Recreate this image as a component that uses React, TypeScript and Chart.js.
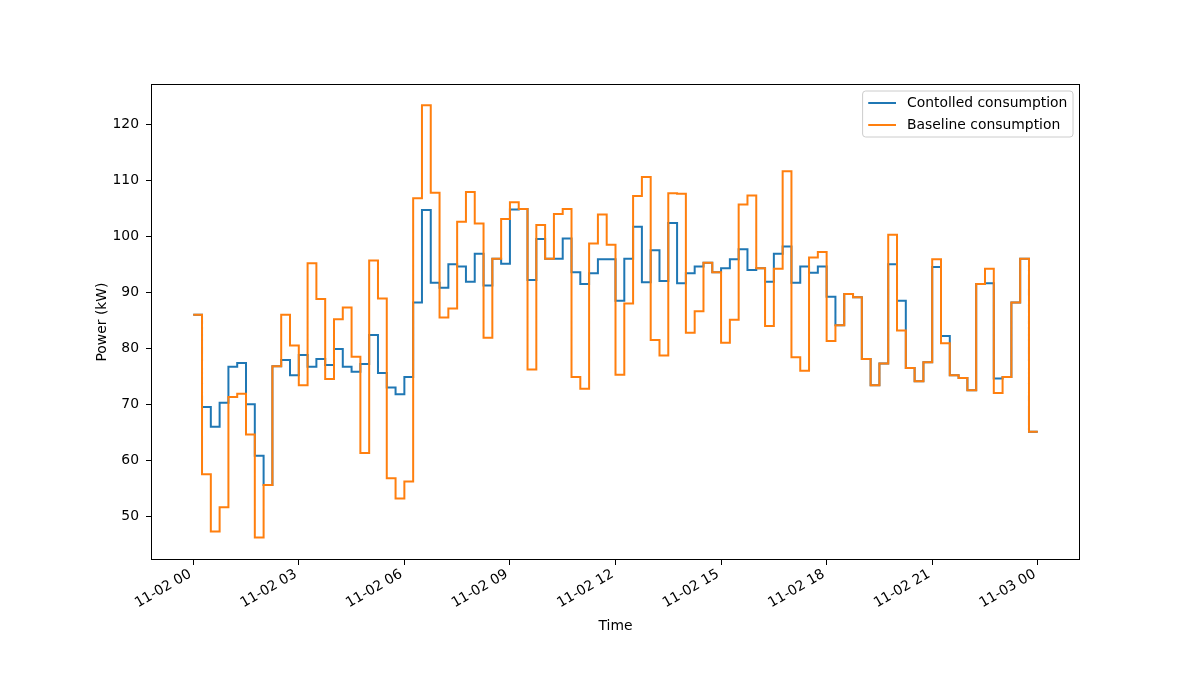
import React, { useEffect, useRef } from 'react';
import { Chart, registerables } from 'chart.js';

Chart.register(...registerables);

// 15-minute intervals over 11-02 (kW)
const STEP_H = 0.25;

const controlled = [
  86.1, 69.6, 66.1, 70.4, 76.8, 77.5, 70.1, 60.9, 55.7, 76.9, 78.0, 75.3,
  78.9, 76.8, 78.2, 77.1, 80.0, 76.8, 75.9, 77.3, 82.5, 75.7, 73.1, 71.9,
  75.0, 88.3, 104.8, 91.8, 90.9, 95.1, 94.7, 92.0, 97.0, 91.3, 96.1, 95.2,
  104.9, 105.0, 92.3, 99.6, 96.1, 96.1, 99.7, 93.7, 91.6, 93.5, 96.0, 96.0,
  88.6, 96.1, 101.8, 91.9, 97.6, 92.1, 102.5, 91.7, 93.5, 94.7, 95.4, 93.7,
  94.4, 96.0, 97.8, 94.1, 94.4, 92.0, 97.0, 98.3, 91.8, 94.7, 93.6, 94.7,
  89.3, 84.2, 89.8, 89.2, 78.2, 73.5, 77.4, 95.1, 88.6, 76.6, 74.2, 77.6,
  94.6, 82.3, 75.3, 74.8, 72.6, 91.6, 91.7, 74.7, 75.0, 88.3, 96.1, 65.2,
];

const baseline = [
  86.1, 57.6, 47.4, 51.7, 71.4, 72.0, 64.7, 46.3, 55.7, 76.9, 86.1, 80.6,
  73.5, 95.3, 88.9, 74.6, 85.3, 87.4, 78.6, 61.4, 95.8, 89.0, 56.9, 53.3,
  56.3, 106.9, 123.5, 107.9, 85.6, 87.2, 102.7, 108.0, 102.4, 82.0, 96.1, 103.2,
  106.2, 105.0, 76.3, 102.1, 96.1, 104.1, 105.0, 75.0, 72.9, 98.8, 104.0, 98.6,
  75.4, 88.1, 107.3, 110.7, 81.6, 78.8, 107.8, 107.7, 82.9, 86.7, 95.4, 93.7,
  81.1, 85.2, 105.8, 107.4, 94.4, 84.1, 94.3, 111.7, 78.5, 76.1, 96.3, 97.3,
  81.4, 84.2, 89.8, 89.2, 78.2, 73.5, 77.4, 100.4, 83.3, 76.6, 74.2, 77.6,
  96.0, 81.0, 75.3, 74.8, 72.6, 91.6, 94.3, 72.1, 75.0, 88.3, 96.1, 65.2,
];

const hourTicks = [0, 3, 6, 9, 12, 15, 18, 21, 24];
const hourLabels = [
  '11-02 00', '11-02 03', '11-02 06', '11-02 09', '11-02 12',
  '11-02 15', '11-02 18', '11-02 21', '11-03 00',
];
const powerTicks = [50, 60, 70, 80, 90, 100, 110, 120];

const seriesNames = ['Contolled consumption', 'Baseline consumption'];
const seriesColors = ['#1f77b4', '#ff7f0e'];

const FONT = '"DejaVu Sans", sans-serif';

// step series: each value holds for its interval, closed at the end of the day
const toSteps = (vals: number[]) =>
  vals
    .map((v, i) => ({ x: i * STEP_H, y: v }))
    .concat({ x: vals.length * STEP_H, y: vals[vals.length - 1] });

const framePlugin = {
  id: 'frameAndLegend',
  afterDraw(chart: any) {
    const { ctx, chartArea } = chart;
    ctx.save();
    // all four spines
    ctx.strokeStyle = '#000';
    ctx.lineWidth = 1;
    ctx.strokeRect(Math.round(chartArea.left) + 0.5, Math.round(chartArea.top) + 0.5,
      Math.round(chartArea.right - chartArea.left) - 1, Math.round(chartArea.bottom - chartArea.top) - 1);

    // legend box, upper right inside the axes
    ctx.font = `13.9px ${FONT}`;
    const textW = Math.max(...seriesNames.map((n) => ctx.measureText(n).width));
    const pad = 5.6, handle = 27.8, gap = 11, rowH = 22;
    const w = pad + handle + gap + textW + pad;
    const h = rowH * seriesNames.length + 2;
    const x0 = chartArea.right - 7 - w;
    const y0 = chartArea.top + 7;
    ctx.beginPath();
    ctx.roundRect(x0, y0, w, h, 3);
    ctx.fillStyle = 'rgba(255,255,255,0.8)';
    ctx.fill();
    ctx.strokeStyle = '#cccccc';
    ctx.stroke();
    seriesNames.forEach((name, i) => {
      const cy = y0 + 12 + i * rowH;
      ctx.beginPath();
      ctx.strokeStyle = seriesColors[i];
      ctx.lineWidth = 2;
      ctx.moveTo(x0 + pad, cy);
      ctx.lineTo(x0 + pad + handle, cy);
      ctx.stroke();
      ctx.fillStyle = '#000';
      ctx.textBaseline = 'middle';
      ctx.textAlign = 'left';
      ctx.fillText(name, x0 + pad + handle + gap, cy);
    });
    ctx.restore();
  },
};

const App: React.FC = () => {
  const canvasRef = useRef<HTMLCanvasElement>(null);
  const chartRef = useRef<Chart | null>(null);

  useEffect(() => {
    document.body.style.margin = '0';
    if (!canvasRef.current) return;
    if (chartRef.current) chartRef.current.destroy();

    chartRef.current = new Chart(canvasRef.current, {
      type: 'line',
      data: {
        datasets: [
          {
            label: seriesNames[0],
            data: toSteps(controlled),
            borderColor: seriesColors[0],
            borderWidth: 2,
            stepped: 'before',
            pointRadius: 0,
            fill: false,
            order: 2,
          },
          {
            label: seriesNames[1],
            data: toSteps(baseline),
            borderColor: seriesColors[1],
            borderWidth: 2,
            stepped: 'before',
            pointRadius: 0,
            fill: false,
            order: 1,
          },
        ],
      },
      options: {
        responsive: true,
        maintainAspectRatio: false,
        animation: false,
        layout: { padding: { top: 84, right: 120, left: 0, bottom: 0 } },
        plugins: { legend: { display: false }, tooltip: { enabled: false } },
        scales: {
          x: {
            type: 'linear',
            min: -1.2,
            max: 25.2,
            afterBuildTicks: (s: any) => { s.ticks = hourTicks.map((v) => ({ value: v })); },
            afterFit: (s: any) => { s.height = 140; },
            grid: { drawOnChartArea: false, drawTicks: true, tickLength: 5, tickColor: '#000' },
            border: { display: false },
            ticks: {
              color: '#000',
              font: { family: FONT, size: 13.9 },
              minRotation: 30,
              maxRotation: 30,
              padding: 1,
              labelOffset: -3,
              autoSkip: false,
              callback: (v: any) => hourLabels[hourTicks.indexOf(Number(v))] ?? '',
            },
            title: {
              display: true,
              text: 'Time',
              color: '#000',
              font: { family: FONT, size: 13.9 },
              padding: { top: 4, bottom: 65 },
            },
          },
          y: {
            min: 42.3,
            max: 127.3,
            afterBuildTicks: (s: any) => { s.ticks = powerTicks.map((v) => ({ value: v })); },
            afterFit: (s: any) => { s.width = 151; },
            grid: { drawOnChartArea: false, drawTicks: true, tickLength: 5, tickColor: '#000' },
            border: { display: false },
            ticks: {
              color: '#000',
              font: { family: FONT, size: 13.9 },
              padding: 7,
              callback: (v: any) => String(v),
            },
            title: {
              display: true,
              text: 'Power (kW)',
              color: '#000',
              font: { family: FONT, size: 13.9 },
              padding: { top: 94, bottom: 4 },
            },
          },
        },
      },
      plugins: [framePlugin],
    });

    return () => {
      if (chartRef.current) {
        chartRef.current.destroy();
        chartRef.current = null;
      }
    };
  }, []);

  return (
    <div style={{ width: 1200, height: 700, position: 'relative', background: '#fff' }}>
      <canvas ref={canvasRef} />
    </div>
  );
};

export default App;
